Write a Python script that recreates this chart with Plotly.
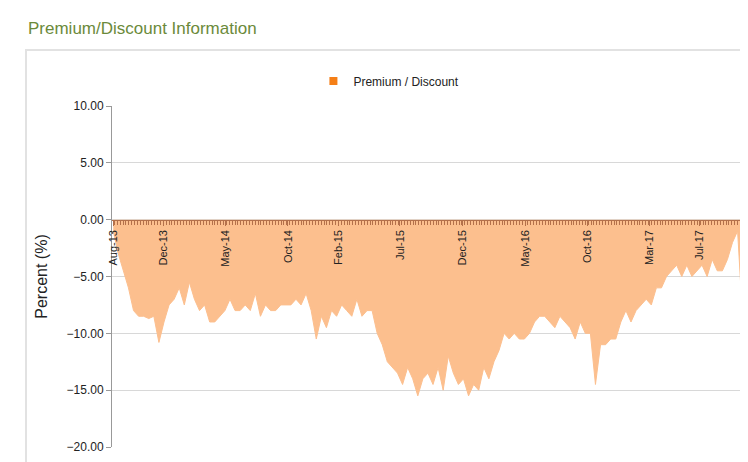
import pandas as pd
import plotly.graph_objects as go

# premium/discount (%) sampled roughly every 12-13 days from Aug 2013
values = [
    -1, -3, -4.5, -6, -8, -8.5, -8.5, -8.7, -8.5, -10.8, -9, -7.5, -7, -6, -7.5, -5.5,
    -7, -8, -7.5, -9, -9, -8.5, -8, -7, -8, -8, -7.5, -8, -6.5, -8.5, -7.5, -8,
    -8, -7.5, -7.5, -7.5, -7, -7.5, -6.5, -8, -10.5, -8.5, -9.5, -8, -8.5, -7.5, -8, -8.5,
    -7, -8.5, -8, -8, -10, -11, -12.5, -13, -13.5, -14.5, -13, -14, -15.5, -14, -13.5, -14.5,
    -13, -15, -12, -13.5, -14.5, -14, -15.5, -14.5, -15, -13, -14, -12.5, -11.5, -10, -10.5, -10,
    -10.5, -10.5, -10, -9, -8.5, -8.5, -9, -9.5, -8.5, -9, -9.5, -10.5, -9, -10, -10, -14.5,
    -11, -11, -10.5, -10.5, -9, -8, -9, -8, -7.5, -7, -7.5, -6, -6, -5, -4.5, -4,
    -5, -4, -5, -4.5, -4, -5, -3.5, -4.5, -4.5, -3.5, -2, -1, -8.7,
]
dates = pd.date_range("2013-08-01", periods=len(values), freq="297h")

tick_dates = ["2013-08-01", "2013-12-01", "2014-05-01", "2014-10-01", "2015-02-01", "2015-07-01",
              "2015-12-01", "2016-05-01", "2016-10-01", "2017-03-01", "2017-07-01"]
tick_labels = ["Aug-13", "Dec-13", "May-14", "Oct-14", "Feb-15", "Jul-15",
               "Dec-15", "May-16", "Oct-16", "Mar-17", "Jul-17"]

fig = go.Figure()
fig.add_trace(go.Scatter(
    x=dates, y=values, mode="lines", fill="tozeroy", name="Premium / Discount",
    line=dict(color="#fcbf8e", width=1), fillcolor="#fcbf8e", showlegend=False,
))
# legend entry with orange square
fig.add_trace(go.Scatter(
    x=[None], y=[None], mode="markers", name="Premium / Discount",
    marker=dict(symbol="square", color="#f57f17", size=8),
))

fig.update_layout(
    width=748, height=462,
    margin=dict(l=104, r=0, t=98, b=23, autoexpand=False),
    paper_bgcolor="white", plot_bgcolor="white",
    font=dict(family="Liberation Sans, Arial", size=12, color="#333"),
    legend=dict(orientation="h", x=0.43, y=(439 - 73) / 341, xanchor="center", yanchor="middle",
                font=dict(size=12, color="#222"), bgcolor="rgba(0,0,0,0)"),
    xaxis=dict(
        type="date", range=["2013-07-29", "2017-11-15"],
        anchor="free", position=2 / 3, side="bottom",
        tickvals=tick_dates, ticktext=tick_labels, tickangle=-90,
        ticks="outside", ticklen=5, tickcolor="#b4704a",
        minor=dict(ticks="outside", dtick=7 * 86400000, ticklen=4, tickcolor="#b4704a"),
        showline=True, linecolor="#b4704a", showgrid=False, zeroline=False,
        tickfont=dict(size=11, color="#222"),
    ),
    yaxis=dict(
        range=[-20, 10], dtick=5, tickformat=".2f", showgrid=True, gridcolor="#d8d8d8",
        zeroline=False, showline=True, linecolor="#999", ticks="outside", ticklen=5,
        tickcolor="#999", tickfont=dict(size=12, color="#222"),
        title=dict(text="Percent (%)", font=dict(size=16, color="#222"), standoff=14),
    ),
    shapes=[dict(type="rect", xref="paper", yref="paper",
                 x0=(18 - 104) / 644, x1=(747 - 104) / 644,
                 y0=(439 - 461) / 341, y1=(439 - 42) / 341,
                 line=dict(color="#e2e2e2", width=2))],
    annotations=[dict(text="Premium/Discount Information", xref="paper", yref="paper",
                      x=(18 - 104) / 644, y=(439 - 20) / 341, xanchor="left", yanchor="middle",
                      showarrow=False, font=dict(size=17, color="#6b8a3a"))],
)

fig.write_html("out.html")
